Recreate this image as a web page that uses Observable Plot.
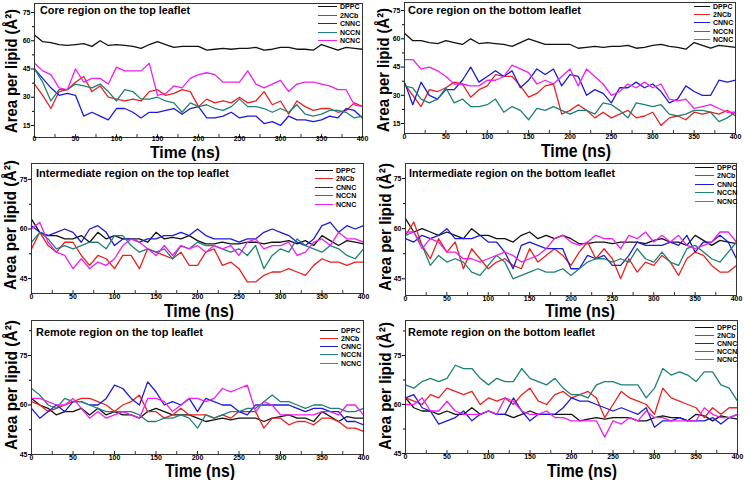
<!DOCTYPE html>
<html><head><meta charset="utf-8">
<script src="https://cdn.jsdelivr.net/npm/d3@7"></script>
<script src="https://cdn.jsdelivr.net/npm/@observablehq/plot@0.6"></script>
<style>
body{margin:0;background:#fff;}
#root{position:relative;width:745px;height:480px;overflow:hidden;background:#fff;font-family:"Liberation Sans",Arial,sans-serif;}
.panel{position:absolute;}
.panel svg{position:absolute;left:0;top:0;}
.legend{position:absolute;font:bold 7px "Liberation Sans",Arial,sans-serif;color:#000;}
.row{display:flex;align-items:center;white-space:nowrap;}
.sw{display:inline-block;height:0;border-top:1.6px solid;margin-right:3px;}
.lab{position:absolute;white-space:nowrap;font-weight:bold;color:#000;transform-origin:0 0;font-family:"Liberation Sans",Arial,sans-serif;}
</style></head><body><div id="root"></div>
<script>
const FONT = '"Liberation Sans", Arial, sans-serif';
const seriesNames = ["DPPC","2NCb","CNNC","NCCN","NCNC"];
const seriesColors = ["#111111","#e8231f","#1c1cd6","#1f8078","#f01ff0"];
const time = d3.range(0, 401, 10);
const xMajor = [0,50,100,150,200,250,300,350,400];
const xMinor = [25,75,125,175,225,275,325,375];
const yTicksCore = [15,30,45,60,75];
const yMinorCore = [22.5,37.5,52.5,67.5];
const yTicksOther = [45,60,75];
const yMinorOther = [52.5,67.5,82.5];
const xLabel = "Time (ns)";
const yLabel = "Area per lipid (Å²)";

// Core region, top leaflet
const coreTopDPPC = [63,59.5,59,58,57.5,58,58.5,57,60,57.5,58,57.5,57,56,58,59.5,58,56.5,57,57,57,55,55.5,56,55.5,56,56,56.5,55,55.5,56.5,56.5,55.5,55.5,55,58,56.5,55,56.5,56,55.5];
const coreTop2NCb = [37,31,24,33,34,38,41,33,36,30,29,28,29,28,33,34,31,32,34,33,25,29,27,28,27,30,27,28,33,26,28,21,28,25,23,24,24,22,23,27,25];
const coreTopCNNC = [45,40,35,31,32,31,20,22,20,18,24,24,22,19,22,22,23,24,21,24,25,19,19,20,22,19,20,20,16,17,15,20,18,18,17,18,20,19,24,23,19];
const coreTopNCCN = [45,38,28,34,34,37,36,35,37,33,28,34,33,29,29,30,28,27,22,27,25,26,24,23,25,29,25,25,24,22,24,22,26,21,20,21,23,23,22,19,20];
const coreTopNCNC = [48,44,42,35,34,45,38,40,40,37,46,44,44,44,48,31,32,36,35,40,42,43,42,38,38,38,44,37,35,37,39,33,37,38,38,37,36,34,34,26,25];
// Core region, bottom leaflet
const coreBotDPPC = [63,59,59,58,57.5,59,58,57,60,57.5,58,57.5,57,56,58,60,58.5,57,57,57,57,55,55.5,56,55.5,56,56,56.5,55,55.5,56.5,57,56,55.5,54.5,58,56.5,55,56.5,56,55.5];
const coreBot2NCb = [36,30,24,33,32,34,37,36,29,33,35,41,40,40,35,29,31,35,36,20,22,25,22,18,21,18,20,22,18,19,21,14,18,19,17,21,20,21,20,22,19];
const coreBotCNNC = [37,25,37,30,28,33,33,38,45,37,40,43,40,43,34,38,44,41,44,35,41,40,30,33,31,26,34,34,37,34,36,32,26,28,35,32,30,30,38,37,38];
const coreBotNCCN = [35,34,28,26,28,34,26,28,24,24,25,28,21,24,22,17,23,22,24,22,20,22,22,20,26,25,22,18,26,25,24,25,20,19,20,22,22,21,16,18,21];
const coreBotNCNC = [49,49,44,45,43,40,36,36,35,35,38,38,40,46,44,42,36,38,36,40,44,35,44,40,36,30,32,36,34,37,34,36,28,27,28,23,24,25,23,21,21];
// Intermediate region, top leaflet
const interTopDPPC = [63,59,58,58,57,57,58,56,59,57,58,57,57,57,56,59,57,57.5,57,58,56.5,55.5,55.5,56,55.5,55.5,56,56,55.5,56,56,56.5,55.5,56.5,55,58,56.5,55,56.5,56,55.5];
const interTop2NCb = [54,59,55,53,56,56,52,49,52,51,48,52,52,48,54,53,52,51,53,49,49,53,54,49,50,48,44,44,46,47,47,48,47,46,49,51,50,50,49,50,50];
const interTopCNNC = [61,59,58,59,60,59,56,60,61,59,55,57,57,56,57,57,58,58,59,58,60,58,57,57,57,56,57,57,59,60,59,58,56,55,57,61,62,59,61,60,61];
const interTopNCCN = [56,59,57,54,55,54,55,56,56,54,58,58,55,53,54,53,54,51,55,54,56,55,55,54,53,54,52,55,48,52,54,53,57,55,54,53,55,54,52,51,54];
const interTopNCNC = [60,62,56,53,52,48,51,48,50,49,51,55,57,56,54,52,55,52,55,54,55,53,55,54,55,52,56,57,54,55,55,56,52,53,56,57,55,59,57,57,56];
// Intermediate region, bottom leaflet
const interBotDPPC = [63,59,60,59,58,59,58,57,60,58,58,57,57,56,58,59,57,58,57,58,57,55.5,55.5,56,56,55.5,56,56,56,55.5,56.5,57,56,56,55,58,56.5,55,56.5,56,55.5];
const interBot2NCb = [58,62,55,51,57,53,56,48,54,51,48,50,51,49,48,54,50,52,54,52,49,53,56,51,54,51,45,51,47,50,49,52,50,46,51,53,52,49,47,47,49];
const interBotCNNC = [57,56,58,57,58,60,57,57,57,58,56,56,53,48,55,56,55,54,54,54,48,48,52,51,52,49,49,52,56,55,55,55,56,55,58,53,56,56,58,56,51];
const interBotNCCN = [58,59,55,49,52,50,51,50,47,46,49,52,50,45,46,47,48,47,47,48,46,48,50,51,51,50,51,50,54,51,50,53,50,49,54,55,53,51,50,53,56];
const interBotNCNC = [59,59,54,57,56,53,53,51,51,50,51,52,53,52,50,51,52,54,57,58,56,55,56,58,57,57,54,58,57,59,56,58,56,58,55,54,55,56,59,59,56];
// Remote region, top leaflet
const remTopDPPC = [62,60,59,57,58,58,59,57,59,57,58,57,57,56,58,59,58,57,57,57,56,55,55.5,56,55.5,56,56,56,55,56,56.5,57,56,56,55,58,56.5,55,56.5,56,56];
const remTop2NCb = [61,60,58,59,60,61,62,62,61,60,58,60,61,63,58,58,56,57,59,57,57,57,56,57,56,58,58,58,53,56,56,54,55,55,54,56,56,55,53,53,52];
const remTopCNNC = [59,56,58,60,58,61,61,60,60,62,66,65,62,60,67,64,60,61,60,62,58,62,61,60,60,58,57,60,60,60,60,60,59,58,59,59,58,58,55,55,54];
const remTopNCCN = [65,63,60,59,62,61,61,60,59,58,58,58,58,57,55,55,56,56,57,56,53,57,56,57,58,58,59,59,61,63,61,61,60,59,60,60,59,59,58,58,59];
const remTopNCNC = [62,62,61,60,60,62,59,56,58,56,57,58,57,56,62,62,61,58,60,62,62,61,62,65,64,65,66,58,61,60,57,57,57,57,57,58,58,57,60,60,57];
// Remote region, bottom leaflet
const remBotDPPC = [62,59,58,58,57,58,57,57,59,57,58,57,57,56,57,58,57,57,57,57,57,55,55.5,56,55.5,56,56,56,55,55,56,56.5,56,56,55,57,56.5,55,56.5,56,55.5];
const remBot2NCb = [62,61,60,63,62,65,64,63,64,60,62,61,62,60,63,65,61,60,63,64,62,63,64,62,56,60,64,62,61,60,57,65,62,61,60,59,56,59,57,59,59];
const remBotCNNC = [62,63,59,58,54,55,56,58,55,57,58,57,57,62,58,55,57,57,57,59,62,61,61,60,59,58,59,58,57,59,53,55,55,56,55,55,55,56,54,56,57];
const remBotNCCN = [66,65,67,68,67,68,72,71,71,68,66,68,67,67,71,68,67,66,68,65,63,63,62,66,67,67,66,66,66,62,65,71,69,70,69,67,70,70,66,65,61];
const remBotNCNC = [60,60,62,58,58,61,58,57,57,57,58,57,62,61,58,57,57,58,56,56,55,55,55,55,50,55,54,56,55,58,56,56,55,55,55,55,59,57,56,56,57];

// layout: m = [top,right,bottom,left]; title {x, base, len}; xl {cx, base, fs}; yl {bx, cy, len}
const panels = [
  {title:"Core region on the top leaflet", vals:[coreTopDPPC,coreTop2NCb,coreTopCNNC,coreTopNCCN,coreTopNCNC],
   yDomain:[8.6,79.8], yTicks:yTicksCore, yMinor:yMinorCore, left:0, top:0, w:372, h:160, m:[3,10,23,34], xPad:0, xDy:-1,
   t:{x:40, base:14, len:150}, xl:{cx:185, base:158.5, fs:17}, yl:{bx:18, cy:71, len:124}, leg:{left:318, top:2.5, row:8.5, sw:19}},
  {title:"Core region on the bottom leaflet", vals:[coreBotDPPC,coreBot2NCb,coreBotCNNC,coreBotNCCN,coreBotNCNC],
   yDomain:[9.7,79.3], yTicks:yTicksCore, yMinor:yMinorCore, left:372, top:0, w:373, h:160, m:[2,10,27,32], xPad:1, xDy:0,
   t:{x:408, base:14, len:173}, xl:{cx:576, base:157, fs:18}, yl:{bx:390, cy:70, len:124}, leg:{left:322, top:2, row:8.3, sw:16}},
  {title:"Intermediate region on the top leaflet", vals:[interTopDPPC,interTop2NCb,interTopCNNC,interTopNCCN,interTopNCNC],
   yDomain:[40.5,79.8], yTicks:yTicksOther, yMinor:yMinorOther, left:0, top:160, w:372, h:160, m:[3,9,27,31], xPad:1, xDy:0,
   t:{x:36, base:177, len:193}, xl:{cx:199, base:317, fs:18}, yl:{bx:17, cy:225, len:130}, leg:{left:315, top:6, row:8.5, sw:18}},
  {title:"Intermediate region on the bottom leaflet", vals:[interBotDPPC,interBot2NCb,interBotCNNC,interBotNCCN,interBotNCNC],
   yDomain:[40,79.5], yTicks:yTicksOther, yMinor:yMinorOther, left:372, top:160, w:373, h:160, m:[3,9,25,33], xPad:1, xDy:0,
   t:{x:409, base:177, len:206}, xl:{cx:580, base:317.5, fs:18}, yl:{bx:392, cy:227, len:128}, leg:{left:323, top:3, row:8.5, sw:19}},
  {title:"Remote region on the top leaflet", vals:[remTopDPPC,remTop2NCb,remTopCNNC,remTopNCCN,remTopNCNC],
   yDomain:[45,85.6], yTicks:yTicksOther, yMinor:yMinorOther, left:0, top:315, w:372, h:165, m:[5,9,26,31], xPad:1, xDy:0,
   t:{x:36, base:336, len:167}, xl:{cx:200, base:477, fs:18}, yl:{bx:18, cy:385, len:130}, leg:{left:320, top:11, row:8.25, sw:18}},
  {title:"Remote region on the bottom leaflet", vals:[remBotDPPC,remBot2NCb,remBotCNNC,remBotNCCN,remBotNCNC],
   yDomain:[45,85.7], yTicks:yTicksOther, yMinor:yMinorOther, left:372, top:315, w:373, h:165, m:[5,8,27,33], xPad:1, xDy:0,
   t:{x:408, base:336, len:187}, xl:{cx:582, base:477, fs:18}, yl:{bx:392, cy:386, len:128}, leg:{left:323, top:8, row:8, sw:19}}
];

const root = document.getElementById("root");
const LH = 0.8; // line-height as a fraction of font size
const ASC = (LH - 1.117) / 2 + 0.905; // baseline offset within the line box

function makeLabel(txt, fs) {
  const d = document.createElement("div");
  d.className = "lab"; d.textContent = txt;
  d.style.fontSize = fs + "px"; d.style.lineHeight = (LH * fs) + "px";
  d.style.left = "0px"; d.style.top = "0px";
  root.appendChild(d);
  return [d, d.getBoundingClientRect().width];
}
function hLabel(txt, fs, x, base, len, centered) {
  const [d, W] = makeLabel(txt, fs);
  d.style.left = (centered ? x - len / 2 : x) + "px";
  d.style.top = (base - ASC * fs) + "px";
  d.style.transform = `scaleX(${len / W})`;
}
function vLabel(txt, fs, bx, cy, len) {
  const [d, W] = makeLabel(txt, fs);
  d.style.left = (bx - ASC * fs) + "px";
  d.style.top = (cy + len / 2) + "px";
  d.style.transform = `rotate(-90deg) scaleX(${len / W})`;
}

panels.forEach(p => {
  const rows = [];
  p.vals.forEach((arr, si) => arr.forEach((v, i) => rows.push({t: time[i], v, s: seriesNames[si]})));
  const ph = p.h - p.m[0] - p.m[2];
  const svg = Plot.plot({
    width: p.w, height: p.h,
    marginTop: p.m[0], marginRight: p.m[1], marginBottom: p.m[2], marginLeft: p.m[3],
    style: {background: "transparent", overflow: "visible", fontFamily: FONT, color: "#000"},
    x: {domain: [0, 400]},
    y: {domain: p.yDomain},
    color: {domain: seriesNames, range: seriesColors},
    marks: [
      Plot.lineY(rows, {x: "t", y: "v", z: "s", stroke: "s", strokeWidth: 1.3}),
      Plot.frame({stroke: "#333", strokeWidth: 1}),
      Plot.tickX(xMajor.concat(xMinor), {x: d => d, insetTop: ph - 3, stroke: "#333"}),
      Plot.axisX(xMajor, {tickSize: 0, tickPadding: p.xPad, dy: p.xDy, fontSize: 7, fontWeight: "bold", label: null}),
      Plot.axisY(p.yTicks, {tickSize: 3, tickPadding: 1, fontSize: 7, fontWeight: "bold", label: null}),
      Plot.axisY(p.yMinor.filter(v => v >= p.yDomain[0] && v <= p.yDomain[1]), {tickSize: 2, tickFormat: () => "", label: null})
    ]
  });
  const wrap = document.createElement("div");
  wrap.className = "panel";
  wrap.style.left = p.left + "px"; wrap.style.top = p.top + "px";
  wrap.style.width = p.w + "px"; wrap.style.height = p.h + "px";
  wrap.appendChild(svg);
  const leg = document.createElement("div");
  leg.className = "legend";
  leg.style.left = p.leg.left + "px"; leg.style.top = p.leg.top + "px";
  seriesNames.forEach((n, i) => {
    const r = document.createElement("div");
    r.className = "row"; r.style.height = p.leg.row + "px";
    const sw = document.createElement("span");
    sw.className = "sw"; sw.style.width = p.leg.sw + "px"; sw.style.borderTopColor = seriesColors[i];
    const lb = document.createElement("span"); lb.textContent = n;
    r.appendChild(sw); r.appendChild(lb); leg.appendChild(r);
  });
  wrap.appendChild(leg);
  root.appendChild(wrap);
  hLabel(p.title, 11, p.t.x, p.t.base, p.t.len, false);
  hLabel(xLabel, p.xl.fs, p.xl.cx, p.xl.base, 70, true);
  vLabel(yLabel, 17, p.yl.bx, p.yl.cy, p.yl.len);
});
</script></body></html>
